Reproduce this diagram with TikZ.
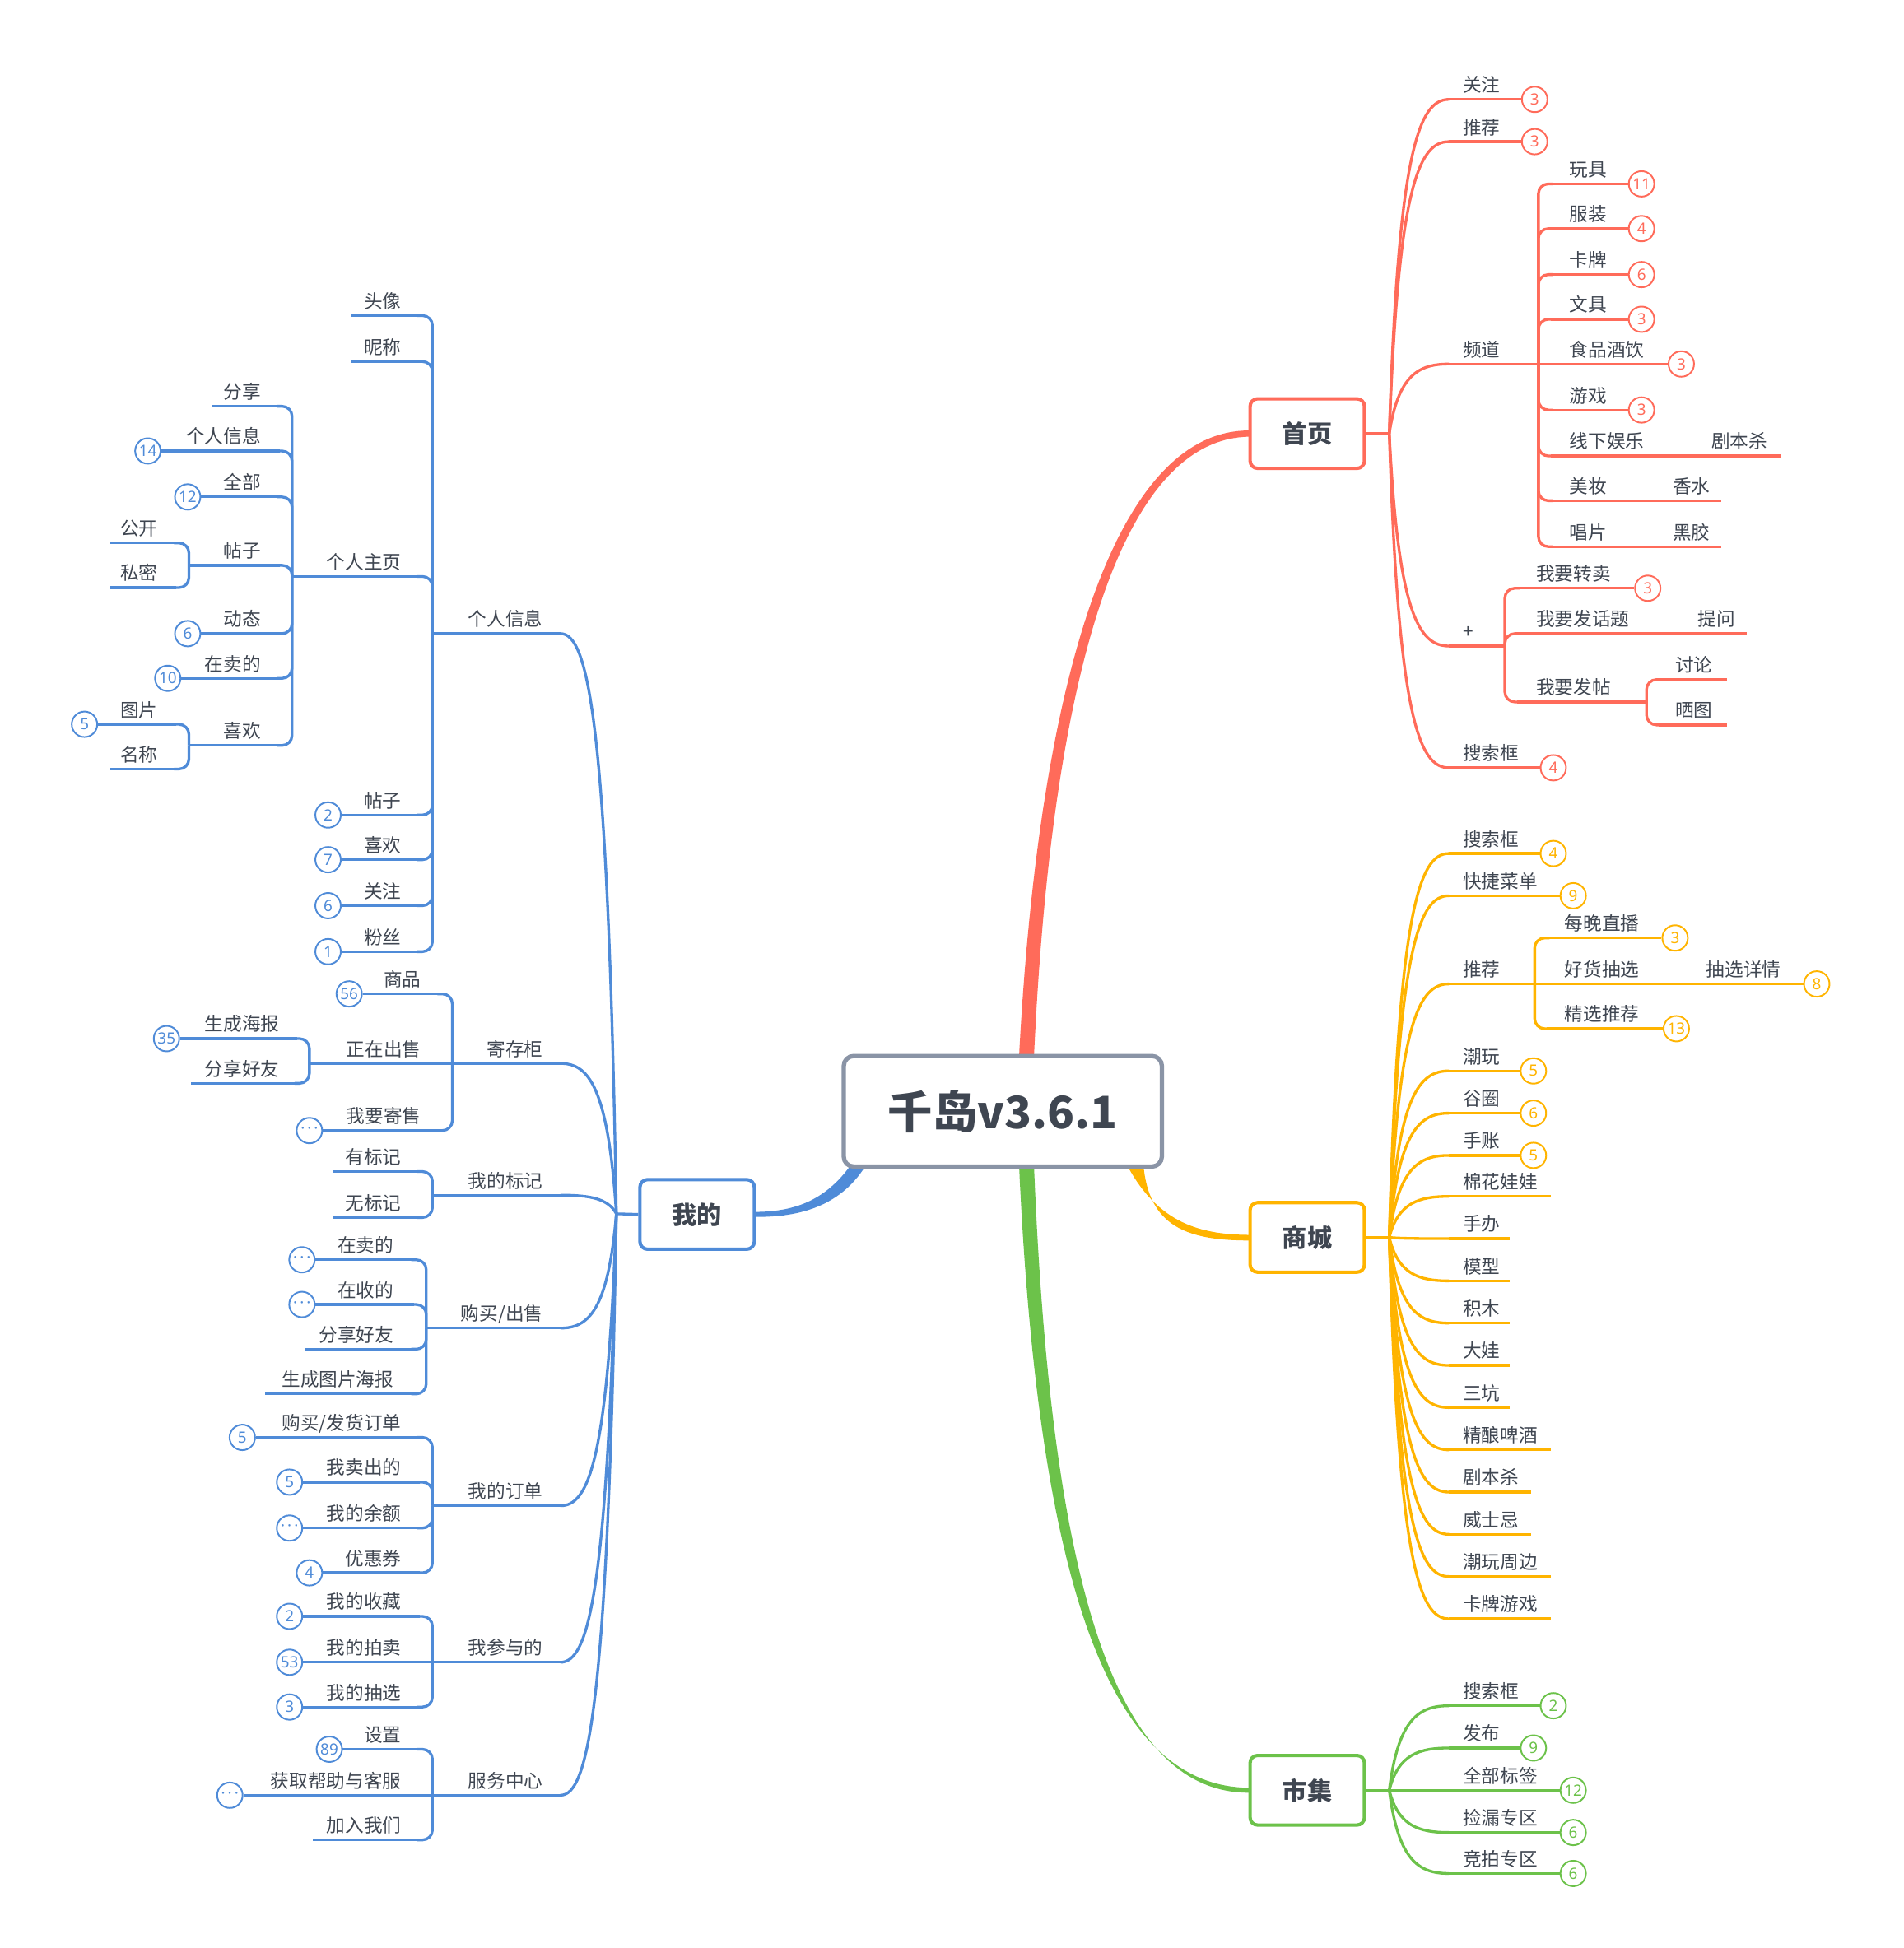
\documentclass[tikz,border=0pt]{standalone}
\usepackage{fontspec}
\setmainfont{Noto Sans CJK SC}
\newfontfamily\badgefont{Noto Sans}
\definecolor{cR}{HTML}{FF6B5A}
\definecolor{cO}{HTML}{FFB400}
\definecolor{cG}{HTML}{6CC24A}
\definecolor{cB}{HTML}{4F8BD8}
\definecolor{cT}{HTML}{3F4651}
\definecolor{cC}{HTML}{8A94A6}
\newcommand\dotsbadge{·\kern2pt·\kern2pt·}
% hub curve: color, hx, hy, cx, cy
\newcommand\hc[5]{%
  \pgfmathsetmacro\hcA{#2+0.15*(#4-#2)}%
  \pgfmathsetmacro\hcB{#5+0.15*(#3-#5)}%
  \pgfmathsetmacro\hcC{#2+0.5*(#4-#2)}%
  \draw[ln,#1] (#2,#3) .. controls (\hcA,\hcB) and (\hcC,#5) .. (#4,#5);}
% bus corner right / left: color, busx, parent y, child y
\newcommand\BC[4]{\draw[ln,#1,rounded corners=8pt] (#2,#3) |- (#2+12,#4);}
\newcommand\BCL[4]{\draw[ln,#1,rounded corners=8pt] (#2,#3) |- (#2-12,#4);}
% right leaf: name, color, x0, y, label x, text, end x, badge
\newcommand\RL[8]{%
  \node[lbl,anchor=base west] (#1) at (#5,#4-6) {#6};
  \if\relax\detokenize{#8}\relax
    \coordinate (#1e) at (#7,#4);
    \draw[ln,#2] (#3,#4) -- (#1e);
  \else
    \node[badge,draw=#2,text=#2] (#1e) at (#7,#4) {#8};
    \draw[ln,#2] (#3,#4) -- (#1e.west);
  \fi}
% left leaf
\newcommand\LL[8]{%
  \node[lbl,anchor=base east] (#1) at (#5,#4-6) {#6};
  \if\relax\detokenize{#8}\relax
    \coordinate (#1e) at (#7,#4);
    \draw[ln,#2] (#3,#4) -- (#1e);
  \else
    \node[badge,draw=#2,text=#2] (#1e) at (#7,#4) {#8};
    \draw[ln,#2] (#3,#4) -- (#1e.east);
  \fi}
\begin{document}
\begin{tikzpicture}[x=1pt,y=-1pt,
  lbl/.style={text=cT,font=\fontsize{15}{18}\selectfont,inner sep=0pt},
  ln/.style={line width=2.2pt},
  badge/.style={circle,fill=white,line width=1.3pt,minimum size=20.5pt,inner sep=0pt,font=\badgefont\fontsize{12.5}{13}\selectfont},
  mainbox/.style={draw,fill=white,line width=2.7pt,rounded corners=6pt,minimum width=92pt,minimum height=56pt,inner sep=0pt,text=cT,font=\bfseries\fontsize{20}{24}\selectfont}]
\useasboundingbox[fill=white] (0,0) rectangle (1532,1568);

% main tapered connectors
\fill[cR] (820,852) .. controls (836,545) and (898,345.5) .. (1006,346.5) -- (1006,351.5) .. controls (902,352) and (846,545) .. (832,852) -- cycle;
\fill[cG] (820,936) .. controls (836,1290) and (898,1439) .. (1006,1439) -- (1006,1443) .. controls (902,1444) and (846,1290) .. (832,936) -- cycle;
\fill[cO] (906,936) .. controls (930,982) and (962,994) .. (1006,994) -- (1006,998.5) .. controls (956,998.5) and (924,988) .. (920,936) -- cycle;
\fill[cB] (686,936) .. controls (665,966) and (640,975.5) .. (607,975.5) -- (607,979.5) .. controls (645,980) and (678,970) .. (698,936) -- cycle;

\node[draw=cC,fill=white,line width=3.5pt,rounded corners=8pt,minimum width=256pt,minimum height=89pt,text=cT,font=\bfseries\fontsize{36}{40}\selectfont] (root) at (807,894.5) {千岛v3.6.1};

\node[mainbox,draw=cR] (home) at (1052,349) {首页};
\node[mainbox,draw=cO] (mall) at (1052,996) {商城};
\node[mainbox,draw=cG] (mkt) at (1052,1441) {市集};
\node[mainbox,draw=cB] (mine) at (561,977.5) {我的};

% ---------- 首页 ----------
\coordinate (h1) at (1118,349); \draw[ln,cR] (home.east) -- (h1);
\hc{cR}{1118}{349}{1166}{80}\RL{a1}{cR}{1166}{80}{1177}{关注}{1235}{3}
\hc{cR}{1118}{349}{1166}{114}\RL{a2}{cR}{1166}{114}{1177}{推荐}{1235}{3}
\hc{cR}{1118}{349}{1166}{293}\RL{a3}{cR}{1166}{293}{1177}{频道}{1238}{}
\BC{cR}{1238}{293}{148}\RL{a31}{cR}{1248}{148}{1263}{玩具}{1321}{11}
\BC{cR}{1238}{293}{184}\RL{a32}{cR}{1248}{184}{1263}{服装}{1321}{4}
\BC{cR}{1238}{293}{221}\RL{a33}{cR}{1248}{221}{1263}{卡牌}{1321}{6}
\BC{cR}{1238}{293}{257}\RL{a34}{cR}{1248}{257}{1263}{文具}{1321}{3}
\RL{a35}{cR}{1238}{293}{1263}{食品酒饮}{1353}{3}
\BC{cR}{1238}{293}{330}\RL{a36}{cR}{1248}{330}{1263}{游戏}{1321}{3}
\BC{cR}{1238}{293}{367}\RL{a37}{cR}{1248}{367}{1263}{线下娱乐}{1360}{}
\RL{a371}{cR}{1360}{367}{1377}{剧本杀}{1433}{}
\BC{cR}{1238}{293}{403}\RL{a38}{cR}{1248}{403}{1263}{美妆}{1336}{}
\RL{a381}{cR}{1336}{403}{1346}{香水}{1385}{}
\BC{cR}{1238}{293}{440}\RL{a39}{cR}{1248}{440}{1263}{唱片}{1336}{}
\RL{a391}{cR}{1336}{440}{1346}{黑胶}{1385}{}
\hc{cR}{1118}{349}{1166}{520}\RL{a4}{cR}{1166}{520}{1177}{+}{1211}{}
\BC{cR}{1211}{520}{473.5}\RL{a41}{cR}{1221}{473.5}{1236}{我要转卖}{1326}{3}
\BC{cR}{1211}{520}{510}\RL{a42}{cR}{1221}{510}{1236}{我要发话题}{1345}{}
\RL{a421}{cR}{1345}{510}{1366}{提问}{1406}{}
\BC{cR}{1211}{520}{565}\RL{a43}{cR}{1221}{565}{1236}{我要发帖}{1325}{}
\BC{cR}{1325}{565}{547}\RL{a431}{cR}{1335}{547}{1348}{讨论}{1390}{}
\BC{cR}{1325}{565}{583.5}\RL{a432}{cR}{1335}{583.5}{1348}{晒图}{1390}{}
\hc{cR}{1118}{349}{1166}{618}\RL{a5}{cR}{1166}{618}{1177}{搜索框}{1250}{4}

% ---------- 商城 ----------
\coordinate (h2) at (1118,996); \draw[ln,cO] (mall.east) -- (h2);
\hc{cO}{1118}{996}{1166}{687}\RL{b1}{cO}{1166}{687}{1177}{搜索框}{1250}{4}
\hc{cO}{1118}{996}{1166}{721}\RL{b2}{cO}{1166}{721}{1177}{快捷菜单}{1266}{9}
\hc{cO}{1118}{996}{1166}{792}\RL{b3}{cO}{1166}{792}{1177}{推荐}{1235}{}
\BC{cO}{1235}{792}{755}\RL{b31}{cO}{1245}{755}{1259}{每晚直播}{1348}{3}
\RL{b32}{cO}{1235}{792}{1259}{好货抽选}{1360}{}
\RL{b321}{cO}{1360}{792}{1373}{抽选详情}{1462}{8}
\BC{cO}{1235}{792}{828}\RL{b33}{cO}{1245}{828}{1259}{精选推荐}{1349}{13}
\hc{cO}{1118}{996}{1166}{862}\RL{b4}{cO}{1166}{862}{1177}{潮玩}{1234}{5}
\hc{cO}{1118}{996}{1166}{896}\RL{b5}{cO}{1166}{896}{1177}{谷圈}{1234}{6}
\hc{cO}{1118}{996}{1166}{930}\RL{b6}{cO}{1166}{930}{1177}{手账}{1234}{5}
\hc{cO}{1118}{996}{1166}{963}\RL{b7}{cO}{1166}{963}{1177}{棉花娃娃}{1248}{}
\hc{cO}{1118}{996}{1166}{997}\RL{b8}{cO}{1166}{997}{1177}{手办}{1215}{}
\hc{cO}{1118}{996}{1166}{1031}\RL{b9}{cO}{1166}{1031}{1177}{模型}{1215}{}
\hc{cO}{1118}{996}{1166}{1065}\RL{b10}{cO}{1166}{1065}{1177}{积木}{1215}{}
\hc{cO}{1118}{996}{1166}{1099}\RL{b11}{cO}{1166}{1099}{1177}{大娃}{1215}{}
\hc{cO}{1118}{996}{1166}{1133}\RL{b12}{cO}{1166}{1133}{1177}{三坑}{1215}{}
\hc{cO}{1118}{996}{1166}{1167}\RL{b13}{cO}{1166}{1167}{1177}{精酿啤酒}{1248}{}
\hc{cO}{1118}{996}{1166}{1201}\RL{b14}{cO}{1166}{1201}{1177}{剧本杀}{1232}{}
\hc{cO}{1118}{996}{1166}{1235}\RL{b15}{cO}{1166}{1235}{1177}{威士忌}{1232}{}
\hc{cO}{1118}{996}{1166}{1269}\RL{b16}{cO}{1166}{1269}{1177}{潮玩周边}{1248}{}
\hc{cO}{1118}{996}{1166}{1303}\RL{b17}{cO}{1166}{1303}{1177}{卡牌游戏}{1248}{}

% ---------- 市集 ----------
\coordinate (h3) at (1118,1441); \draw[ln,cG] (mkt.east) -- (h3);
\hc{cG}{1118}{1441}{1166}{1373}\RL{g1}{cG}{1166}{1373}{1177}{搜索框}{1250}{2}
\hc{cG}{1118}{1441}{1166}{1407}\RL{g2}{cG}{1166}{1407}{1177}{发布}{1234}{9}
\RL{g3}{cG}{1118}{1441}{1177}{全部标签}{1266}{12}
\hc{cG}{1118}{1441}{1166}{1475}\RL{g4}{cG}{1166}{1475}{1177}{捡漏专区}{1266}{6}
\hc{cG}{1118}{1441}{1166}{1508}\RL{g5}{cG}{1166}{1508}{1177}{竞拍专区}{1266}{6}

% ---------- 我的 ----------
\coordinate (h4) at (496,977); \draw[ln,cB] (mine.west) -- (h4);
\hc{cB}{496}{977}{451}{510}\LL{c1}{cB}{451}{510}{437}{个人信息}{348}{}
\BCL{cB}{348}{510}{254}\LL{c11}{cB}{338}{254}{323}{头像}{283}{}
\BCL{cB}{348}{510}{291}\LL{c12}{cB}{338}{291}{323}{昵称}{283}{}
\BCL{cB}{348}{510}{464}\LL{c13}{cB}{338}{464}{323}{个人主页}{235}{}
\BCL{cB}{235}{464}{327}\LL{c131}{cB}{225}{327}{210}{分享}{170}{}
\BCL{cB}{235}{464}{363}\LL{c132}{cB}{225}{363}{210}{个人信息}{119}{14}
\BCL{cB}{235}{464}{400}\LL{c133}{cB}{225}{400}{210}{全部}{151}{12}
\BCL{cB}{235}{464}{455}\LL{c134}{cB}{225}{455}{210}{帖子}{152}{}
\BCL{cB}{152}{455}{437}\LL{c1341}{cB}{142}{437}{127}{公开}{89}{}
\BCL{cB}{152}{455}{473}\LL{c1342}{cB}{142}{473}{127}{私密}{89}{}
\BCL{cB}{235}{464}{510}\LL{c135}{cB}{225}{510}{210}{动态}{151}{6}
\BCL{cB}{235}{464}{546}\LL{c136}{cB}{225}{546}{210}{在卖的}{135}{10}
\BCL{cB}{235}{464}{600}\LL{c137}{cB}{225}{600}{210}{喜欢}{152}{}
\BCL{cB}{152}{600}{583}\LL{c1371}{cB}{142}{583}{127}{图片}{68}{5}
\BCL{cB}{152}{600}{619}\LL{c1372}{cB}{142}{619}{127}{名称}{89}{}
\BCL{cB}{348}{510}{656}\LL{c14}{cB}{338}{656}{323}{帖子}{264}{2}
\BCL{cB}{348}{510}{692}\LL{c15}{cB}{338}{692}{323}{喜欢}{264}{7}
\BCL{cB}{348}{510}{729}\LL{c16}{cB}{338}{729}{323}{关注}{264}{6}
\BCL{cB}{348}{510}{766}\LL{c17}{cB}{338}{766}{323}{粉丝}{264}{1}

\hc{cB}{496}{977}{451}{856}\LL{c2}{cB}{451}{856}{437}{寄存柜}{364}{}
\BCL{cB}{364}{856}{800}\LL{c21}{cB}{354}{800}{339}{商品}{281}{56}
\LL{c22}{cB}{364}{856}{339}{正在出售}{249}{}
\BCL{cB}{249}{856}{836}\LL{c221}{cB}{239}{836}{225}{生成海报}{134}{35}
\BCL{cB}{249}{856}{872}\LL{c222}{cB}{239}{872}{225}{分享好友}{154}{}
\BCL{cB}{364}{856}{910}\LL{c23}{cB}{354}{910}{339}{我要寄售}{249}{\dotsbadge}

\hc{cB}{496}{977}{451}{962}\LL{c3}{cB}{451}{962}{437}{我的标记}{348}{}
\BCL{cB}{348}{962}{943}\LL{c31}{cB}{338}{943}{323}{有标记}{268}{}
\BCL{cB}{348}{962}{980}\LL{c32}{cB}{338}{980}{323}{无标记}{268}{}

\hc{cB}{496}{977}{451}{1069}\LL{c4}{cB}{451}{1069}{437}{购买/出售}{343}{}
\BCL{cB}{343}{1069}{1014}\LL{c41}{cB}{333}{1014}{317}{在卖的}{243}{\dotsbadge}
\BCL{cB}{343}{1069}{1050}\LL{c42}{cB}{333}{1050}{317}{在收的}{243}{\dotsbadge}
\BCL{cB}{343}{1069}{1086}\LL{c43}{cB}{333}{1086}{317}{分享好友}{245}{}
\BCL{cB}{343}{1069}{1122}\LL{c44}{cB}{333}{1122}{317}{生成图片海报}{213}{}

\hc{cB}{496}{977}{451}{1212}\LL{c5}{cB}{451}{1212}{437}{我的订单}{348}{}
\BCL{cB}{348}{1212}{1157}\LL{c51}{cB}{338}{1157}{323}{购买/发货订单}{195}{5}
\BCL{cB}{348}{1212}{1193}\LL{c52}{cB}{338}{1193}{323}{我卖出的}{233}{5}
\BCL{cB}{348}{1212}{1230}\LL{c53}{cB}{338}{1230}{323}{我的余额}{233}{\dotsbadge}
\BCL{cB}{348}{1212}{1266}\LL{c54}{cB}{338}{1266}{323}{优惠券}{249}{4}

\hc{cB}{496}{977}{451}{1338}\LL{c6}{cB}{451}{1338}{437}{我参与的}{348}{}
\BCL{cB}{348}{1338}{1301}\LL{c61}{cB}{338}{1301}{323}{我的收藏}{233}{2}
\LL{c62}{cB}{348}{1338}{323}{我的拍卖}{233}{53}
\BCL{cB}{348}{1338}{1374}\LL{c63}{cB}{338}{1374}{323}{我的抽选}{233}{3}

\hc{cB}{496}{977}{451}{1445}\LL{c7}{cB}{451}{1445}{437}{服务中心}{348}{}
\BCL{cB}{348}{1445}{1408}\LL{c71}{cB}{338}{1408}{323}{设置}{265}{89}
\LL{c72}{cB}{348}{1445}{323}{获取帮助与客服}{185}{\dotsbadge}
\BCL{cB}{348}{1445}{1481}\LL{c73}{cB}{338}{1481}{323}{加入我们}{252}{}
\end{tikzpicture}
\end{document}
